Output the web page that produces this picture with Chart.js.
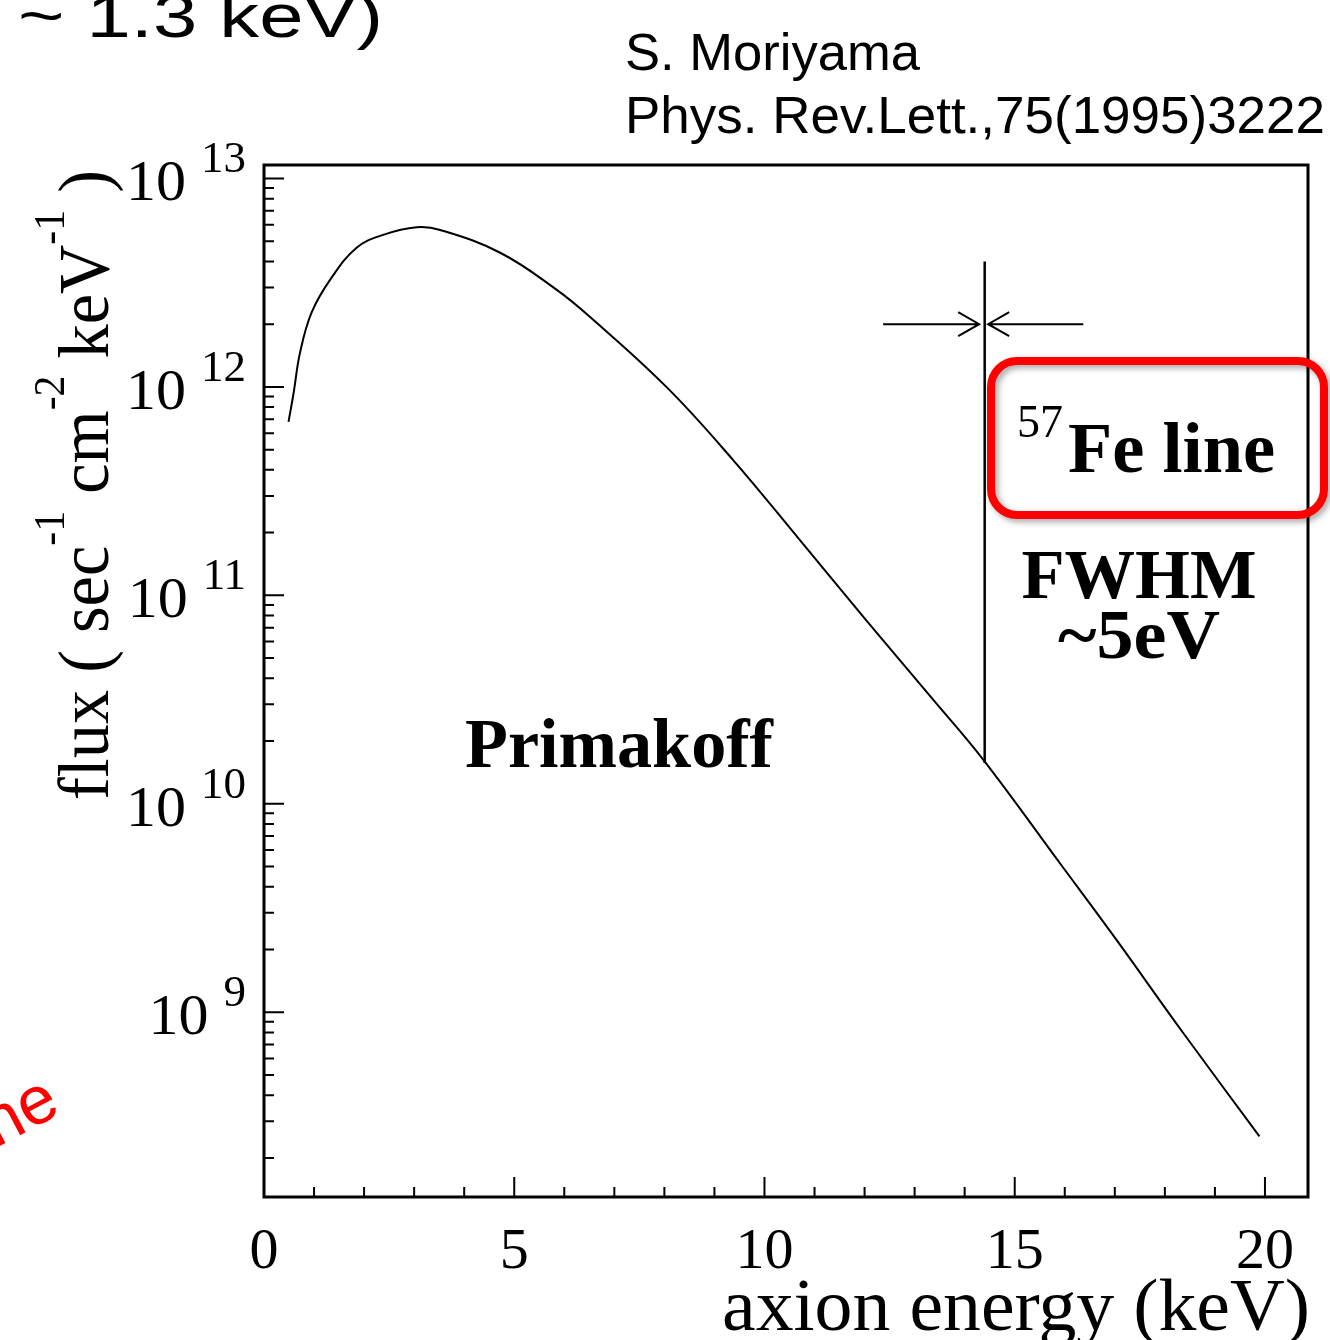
<!DOCTYPE html>
<html><head><meta charset="utf-8">
<script src="https://cdn.jsdelivr.net/npm/chart.js@4.4.1/dist/chart.umd.min.js"></script>
<style>html,body{margin:0;padding:0;background:#fff;overflow:hidden}#wrap{position:relative;width:1330px;height:1340px}</style>
</head><body><div id="wrap"><canvas id="c" width="1330" height="1340"></canvas></div>
<script>
// ---- data ----
const energyKeV = [0.49, 0.59, 0.72, 0.95, 1.32, 1.85, 2.38, 3.05, 3.52, 4.72, 5.85, 6.51, 8.04, 9.37, 10.70, 12.03, 13.37, 14.37, 15.90, 17.03, 18.36, 19.89];
const fluxPrimakoff = [6.8e11, 9.3e11, 1.46e12, 2.27e12, 3.26e12, 4.65e12, 5.36e12, 5.83e12, 5.66e12, 4.40e12, 2.92e12, 2.17e12, 1.0e12, 4.47e11, 1.85e11, 7.6e10, 3.16e10, 1.63e10, 5.2e9, 2.23e9, 8.0e8, 2.54e8];
const feLineEnergy = [14.4, 14.4];
const feLineFlux = [1.57e10, 4.0e12];
const arrowFlux = 2.0e12;
const arrowLeftEnergy = [12.37, 14.29];   // tail, tip
const arrowRightEnergy = [16.37, 14.47];  // tail, tip
const xTickValues = [0, 5, 10, 15, 20];
const xTickLabels = ['0', '5', '10', '15', '20'];
const yTickExponents = [9, 10, 11, 12, 13];
const yTickBase = '10';

const SERIF = '"Liberation Serif", "Times New Roman", serif';
const SANS = '"Liberation Sans", Arial, sans-serif';

function drawParts(ctx, parts, x, y, align, target) {
  let w = 0;
  parts.forEach(p => { ctx.font = p.font; p.w = ctx.measureText(p.t).width; w += p.w; });
  const sx = target ? target / w : 1;
  const total = w * sx;
  const start = align === 'right' ? x - total : (align === 'center' ? x - total / 2 : x);
  ctx.save();
  ctx.translate(start, y);
  ctx.scale(sx, 1);
  ctx.textAlign = 'left';
  ctx.textBaseline = 'alphabetic';
  let cx = 0;
  parts.forEach(p => { ctx.font = p.font; ctx.fillStyle = p.color || '#000'; ctx.fillText(p.t, cx, p.dy || 0); cx += p.w; });
  ctx.restore();
  return total;
}

const decor = {
  id: 'decor',
  afterDatasetsDraw(chart) {
    const { ctx, chartArea: a, scales: { x, y } } = chart;
    ctx.save();
    ctx.strokeStyle = '#000';
    ctx.fillStyle = '#000';
    // frame
    ctx.lineWidth = 3;
    ctx.strokeRect(a.left, a.top, a.right - a.left, a.bottom - a.top);
    // x tick marks (inward)
    ctx.lineWidth = 2;
    ctx.beginPath();
    for (let v = Math.ceil(x.min); v <= x.max; v++) {
      const px = x.getPixelForValue(v);
      const len = (v % 5 === 0) ? 20 : 10;
      ctx.moveTo(px, a.bottom); ctx.lineTo(px, a.bottom - len);
    }
    // y tick marks (inward)
    for (let e = 8; e <= 13; e++) {
      for (let m = 1; m <= 9; m++) {
        const v = m * Math.pow(10, e);
        if (v < y.min || v > y.max) continue;
        const py = y.getPixelForValue(v);
        const len = m === 1 ? 20 : 10;
        ctx.moveTo(a.left, py); ctx.lineTo(a.left + len, py);
      }
    }
    ctx.stroke();

    // x tick labels
    xTickValues.forEach((v, i) => {
      drawParts(ctx, [{ t: xTickLabels[i], font: '58px ' + SERIF }], x.getPixelForValue(v), 1268, 'center');
    });
    // y tick labels 10^n
    yTickExponents.forEach(ex => {
      const py = y.getPixelForValue(Math.pow(10, ex));
      ctx.font = '45px ' + SERIF;
      const ew = ctx.measureText(String(ex)).width;
      drawParts(ctx, [{ t: String(ex), font: '45px ' + SERIF }], 246, py - 6, 'right');
      drawParts(ctx, [{ t: yTickBase, font: '58px ' + SERIF }], 246 - ew - 15, py + 22, 'right', 60);
    });

    // axis titles
    drawParts(ctx, [{ t: 'axion energy (keV)', font: '75px ' + SERIF }], 1310, 1330, 'right', 588);
    ctx.save();
    ctx.translate(108, 800);
    ctx.rotate(-Math.PI / 2);
    const big = '72px ' + SERIF, sup = '44px ' + SERIF;
    drawParts(ctx, [
      { t: 'flux ( sec', font: big },
      { t: '-1', font: sup, dy: -44 },
      { t: ' cm', font: big },
      { t: '-2', font: sup, dy: -44 },
      { t: ' keV', font: big },
      { t: '-1', font: sup, dy: -44 },
      { t: ' )', font: big }
    ], 0, 0, 'left', 630);
    ctx.restore();

    // Fe line arrows
    ctx.lineWidth = 2;
    const ay = y.getPixelForValue(arrowFlux);
    [arrowLeftEnergy, arrowRightEnergy].forEach(arr => {
      const tx = x.getPixelForValue(arr[0]);
      const hx = x.getPixelForValue(arr[1]);
      const dir = Math.sign(hx - tx);
      ctx.beginPath();
      ctx.moveTo(tx, ay); ctx.lineTo(hx, ay);
      ctx.moveTo(hx - dir * 21, ay - 12); ctx.lineTo(hx, ay); ctx.lineTo(hx - dir * 21, ay + 12);
      ctx.stroke();
    });

    // in-plot labels
    drawParts(ctx, [{ t: 'Primakoff', font: 'bold 70px ' + SERIF }], 465, 767, 'left', 308);
    drawParts(ctx, [{ t: 'FWHM', font: 'bold 70px ' + SERIF }], 1139, 598, 'center', 235);
    drawParts(ctx, [{ t: '~5eV', font: 'bold 70px ' + SERIF }], 1139, 658, 'center', 162);

    // red rounded box with shadow
    ctx.save();
    ctx.shadowColor = 'rgba(0,0,0,0.35)';
    ctx.shadowBlur = 6;
    ctx.shadowOffsetX = 3;
    ctx.shadowOffsetY = 3;
    ctx.strokeStyle = '#ff0000';
    ctx.lineWidth = 8;
    ctx.beginPath();
    ctx.roundRect(991, 361, 333, 154, 26);
    ctx.stroke();
    ctx.restore();
    drawParts(ctx, [{ t: '57', font: '46px ' + SERIF }], 1017, 437, 'left', 46);
    drawParts(ctx, [{ t: 'Fe line', font: 'bold 72px ' + SERIF }], 1068, 472, 'left', 207);

    ctx.restore();
  }
};

const outside = {
  id: 'outside',
  afterDraw(chart) {
    const ctx = chart.ctx;
    ctx.save();
    drawParts(ctx, [{ t: '~ 1.3 keV)', font: '62px ' + SANS }], 18, 37, 'left', 365);
    drawParts(ctx, [{ t: 'S. Moriyama', font: '52px ' + SANS }], 625, 70, 'left', 295);
    drawParts(ctx, [{ t: 'Phys. Rev.Lett.,75(1995)3222', font: '52px ' + SANS }], 625, 133, 'left', 700);
    ctx.translate(-4, 1148);
    ctx.rotate(-28 * Math.PI / 180);
    drawParts(ctx, [{ t: 'ne', font: '68px ' + SANS, color: '#ff0000' }], 0, 0, 'left');
    ctx.restore();
  }
};

const curvePts = energyKeV.map((e, i) => ({ x: e, y: fluxPrimakoff[i] }));
const linePts = feLineEnergy.map((e, i) => ({ x: e, y: feLineFlux[i] }));

new Chart(document.getElementById('c'), {
  type: 'line',
  data: {
    datasets: [
      { label: 'Primakoff', data: curvePts, borderColor: '#000', borderWidth: 2, pointRadius: 0, tension: 0.4, fill: false },
      { label: '57Fe line', data: linePts, borderColor: '#000', borderWidth: 2.5, pointRadius: 0, fill: false }
    ]
  },
  options: {
    responsive: false,
    animation: false,
    devicePixelRatio: 1,
    layout: { padding: { left: 264, right: 22, top: 165, bottom: 143 } },
    plugins: { legend: { display: false }, tooltip: { enabled: false } },
    scales: {
      x: {
        type: 'linear', min: 0, max: 20.86,
        ticks: { display: false }, grid: { display: false }, border: { display: false },
        afterFit(s) { s.height = 0; }
      },
      y: {
        type: 'logarithmic', min: 1.30e8, max: 1.16e13,
        ticks: { display: false }, grid: { display: false }, border: { display: false },
        afterFit(s) { s.width = 0; }
      }
    }
  },
  plugins: [decor, outside]
});
</script></body></html>
